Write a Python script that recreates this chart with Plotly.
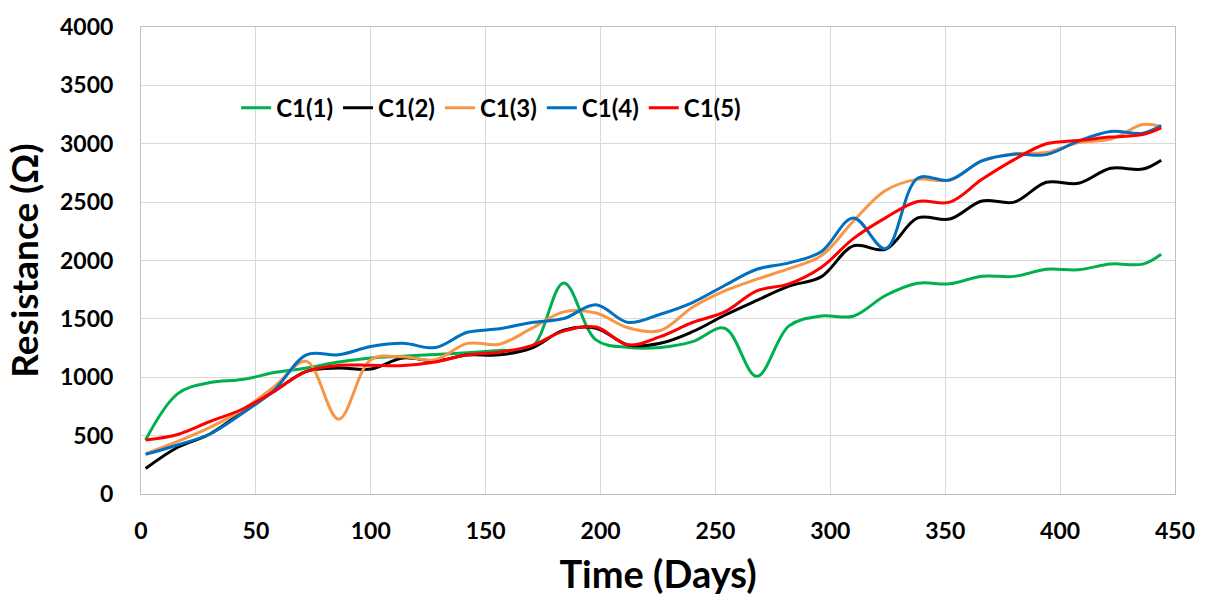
import plotly.graph_objects as go

# Measurement days (every 14 days, last reading on day 444)
days = [2, 16, 30, 44, 58, 72, 86, 100, 114, 128, 142, 156, 170, 184, 198, 212,
        226, 240, 254, 268, 282, 296, 310, 324, 338, 352, 366, 380, 394, 408,
        422, 436, 444]

# Resistance (ohm) for each sample
c1_1 = [463, 860, 955, 980, 1040, 1080, 1130, 1165, 1180, 1195, 1210, 1230, 1255,
        1808, 1320, 1255, 1255, 1305, 1420, 1008, 1440, 1525, 1523, 1700, 1805,
        1800, 1865, 1864, 1925, 1921, 1970, 1969, 2054]
c1_2 = [218, 400, 514, 700, 880, 1051, 1079, 1070, 1165, 1140, 1190, 1192, 1250,
        1404, 1420, 1277, 1291, 1390, 1531, 1658, 1780, 1860, 2125, 2096, 2365,
        2355, 2510, 2500, 2670, 2661, 2790, 2783, 2859]
c1_3 = [345, 450, 570, 720, 920, 1136, 641, 1150, 1175, 1150, 1290, 1283, 1418,
        1560, 1550, 1424, 1400, 1600, 1740, 1840, 1930, 2040, 2336, 2600, 2695,
        2689, 2855, 2915, 2925, 3010, 3040, 3164, 3147]
c1_4 = [339, 420, 514, 690, 890, 1192, 1192, 1263, 1291, 1254, 1385, 1415, 1469,
        1503, 1621, 1469, 1540, 1640, 1786, 1925, 1980, 2075, 2365, 2102, 2704,
        2689, 2853, 2910, 2907, 3023, 3105, 3091, 3155]
c1_5 = [463, 510, 621, 726, 880, 1051, 1102, 1102, 1100, 1130, 1192, 1215, 1271,
        1395, 1430, 1277, 1348, 1469, 1560, 1740, 1800, 1940, 2187, 2365, 2506,
        2500, 2695, 2864, 3000, 3028, 3057, 3079, 3136]

names = ["C1(1)", "C1(2)", "C1(3)", "C1(4)", "C1(5)"]
series = [c1_1, c1_2, c1_3, c1_4, c1_5]
colors = ["#00b050", "#000000", "#f79646", "#0070c0", "#ff0000"]

x_ticks = [0, 50, 100, 150, 200, 250, 300, 350, 400, 450]
y_ticks = [0, 500, 1000, 1500, 2000, 2500, 3000, 3500, 4000]

font_family = "Lato, 'Open Sans', Arial, sans-serif"

fig = go.Figure()
for name, vals, col in zip(names, series, colors):
    fig.add_trace(go.Scatter(
        x=days, y=vals, name=name, mode="lines",
        line=dict(color=col, width=3, shape="spline", smoothing=1.0),
    ))

grid = "#d9d9d9"
fig.update_layout(
    width=1207, height=605,
    margin=dict(l=141, r=32, t=22, b=111),
    paper_bgcolor="white", plot_bgcolor="white",
    font=dict(family=font_family, color="black"),
    legend=dict(
        orientation="h", x=0.092, xanchor="left", y=0.826, yanchor="middle",
        font=dict(size=24, family=font_family, weight="bold"),
        bgcolor="rgba(0,0,0,0)", itemwidth=30, tracegroupgap=0,
    ),
    xaxis=dict(
        range=[0, 450], tickvals=x_ticks, ticktext=[str(v) for v in x_ticks],
        showgrid=True, gridcolor=grid, gridwidth=1,
        showline=True, linecolor="#bfbfbf", linewidth=1, mirror=True,
        zeroline=False, ticks="", ticklabelstandoff=16,
        tickfont=dict(size=23, family=font_family, weight="bold"),
        title=dict(text="Time (Days)", standoff=18,
                   font=dict(size=38, family=font_family, weight="bold")),
    ),
    yaxis=dict(
        range=[0, 4000], tickvals=y_ticks, ticktext=[str(v) for v in y_ticks],
        showgrid=True, gridcolor=grid, gridwidth=1,
        showline=True, linecolor="#bfbfbf", linewidth=1, mirror=True,
        zeroline=False, ticks="", ticklabelstandoff=22,
        tickfont=dict(size=23, family=font_family, weight="bold"),
        title=dict(text="Resistance (Ω)", standoff=10,
                   font=dict(size=37, family=font_family, weight="bold")),
    ),
)

fig.write_html("out.html")
